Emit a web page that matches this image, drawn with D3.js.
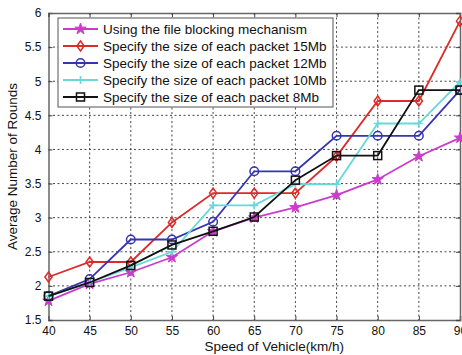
<!DOCTYPE html>
<html lang="en">
<head>
<meta charset="UTF-8">
<title>Average Number of Rounds</title>
<style>
  body { margin: 0; background: #fff; }
  text { font-family: "Liberation Sans", Arial, sans-serif; }
</style>
</head>
<body>
<div id="chart"></div>
<script src="https://d3js.org/d3.v7.min.js"></script>
<script>
    // Data
    var speeds = [40, 45, 50, 55, 60, 65, 70, 75, 80, 85, 90];
    var blocking = [1.78, 2.03, 2.2, 2.42, 2.8, 3.0, 3.15, 3.33, 3.56, 3.9, 4.17];
    var packet15 = [2.13, 2.35, 2.35, 2.93, 3.36, 3.36, 3.36, 3.9, 4.71, 4.71, 5.88];
    var packet12 = [1.85, 2.1, 2.68, 2.68, 2.94, 3.68, 3.68, 4.2, 4.2, 4.2, 4.87];
    var packet10 = [1.85, 2.05, 2.27, 2.5, 3.18, 3.18, 3.49, 3.49, 4.38, 4.38, 4.99];
    var packet8 = [1.85, 2.05, 2.3, 2.6, 2.8, 3.01, 3.55, 3.91, 3.91, 4.87, 4.87];
    var xTicks = [40, 45, 50, 55, 60, 65, 70, 75, 80, 85, 90];
    var yTicks = [1.5, 2, 2.5, 3, 3.5, 4, 4.5, 5, 5.5, 6];

    var series = [
        {name: "Using the file blocking mechanism", values: blocking, color: "#cc3ccc", marker: "star"},
        {name: "Specify the size of each packet 15Mb", values: packet15, color: "#dd2a2a", marker: "diamond"},
        {name: "Specify the size of each packet 12Mb", values: packet12, color: "#3535b0", marker: "circle"},
        {name: "Specify the size of each packet 10Mb", values: packet10, color: "#6ad8d8", marker: "plus"},
        {name: "Specify the size of each packet 8Mb", values: packet8, color: "#111111", marker: "square"}
    ];

    var W = 462, H = 355;
    var margin = {top: 13, right: 2, bottom: 35, left: 48.5};
    var w = W - margin.left - margin.right, h = H - margin.top - margin.bottom;

    var svg = d3.select("#chart").append("svg")
        .attr("width", W).attr("height", H);
    var g = svg.append("g")
        .attr("transform", "translate(" + margin.left + "," + margin.top + ")");

    var x = d3.scaleLinear().domain([40, 90]).range([0, w]);
    var y = d3.scaleLinear().domain([1.5, 6]).range([h, 0]);

    // dotted grid
    g.selectAll(".gx").data(xTicks.slice(1, -1)).enter().append("line")
        .attr("x1", d => x(d)).attr("x2", d => x(d))
        .attr("y1", 0).attr("y2", h)
        .attr("stroke", "#333").attr("stroke-dasharray", "2,2.5").attr("stroke-width", 0.9);
    g.selectAll(".gy").data(yTicks.slice(1, -1)).enter().append("line")
        .attr("x1", 0).attr("x2", w)
        .attr("y1", d => y(d)).attr("y2", d => y(d))
        .attr("stroke", "#333").attr("stroke-dasharray", "2,2.5").attr("stroke-width", 0.9);

    // axes (ticks inward, box style)
    var fmt = d3.format("");
    var axBottom = g.append("g").attr("transform", "translate(0," + h + ")")
        .call(d3.axisBottom(x).tickValues(xTicks).tickSize(-4).tickPadding(6).tickFormat(fmt));
    var axLeft = g.append("g")
        .call(d3.axisLeft(y).tickValues(yTicks).tickSize(-4).tickPadding(7).tickFormat(fmt));
    var axTop = g.append("g")
        .call(d3.axisTop(x).tickValues(xTicks).tickSize(-4).tickFormat(""));
    var axRight = g.append("g").attr("transform", "translate(" + w + ",0)")
        .call(d3.axisRight(y).tickValues(yTicks).tickSize(-4).tickFormat(""));
    [axBottom, axLeft, axTop, axRight].forEach(function (a) {
        a.select(".domain").attr("stroke", "#666").attr("stroke-width", 1.5);
        a.selectAll(".tick line").attr("stroke", "#444");
        a.selectAll("text").attr("font-size", 12).attr("fill", "#111")
            .attr("font-family", "Liberation Sans, Arial, sans-serif");
    });

    // marker drawing
    function drawMarker(sel, type, color) {
        if (type === "circle") {
            sel.append("circle").attr("r", 4.3).attr("fill", "none")
                .attr("stroke", color).attr("stroke-width", 1.5);
        } else if (type === "diamond") {
            sel.append("path").attr("d", "M0,-5L3.6,0L0,5L-3.6,0Z").attr("fill", "none")
                .attr("stroke", color).attr("stroke-width", 1.5);
        } else if (type === "square") {
            sel.append("rect").attr("x", -4).attr("y", -4).attr("width", 8).attr("height", 8)
                .attr("fill", "none").attr("stroke", color).attr("stroke-width", 1.5);
        } else if (type === "plus") {
            sel.append("path").attr("d", "M0,-4L0,4M-4,0L4,0")
                .attr("stroke", color).attr("stroke-width", 1.6);
        } else if (type === "star") {
            sel.append("path").attr("d", d3.symbol().type(d3.symbolStar).size(40)())
                .attr("fill", color).attr("stroke", color).attr("stroke-width", 1);
        }
    }

    var line = d3.line().x((d, i) => x(speeds[i])).y(d => y(d));

    series.forEach(function (s) {
        g.append("path").datum(s.values)
            .attr("d", line).attr("fill", "none")
            .attr("stroke", s.color).attr("stroke-width", 1.8);
        s.values.forEach(function (v, i) {
            var m = g.append("g").attr("transform", "translate(" + x(speeds[i]) + "," + y(v) + ")");
            drawMarker(m, s.marker, s.color);
        });
    });

    // legend
    var lg = svg.append("g").attr("transform", "translate(58,18)");
    lg.append("rect").attr("width", 275).attr("height", 89)
        .attr("fill", "#fff").attr("stroke", "#555").attr("stroke-width", 1);
    series.forEach(function (s, i) {
        var yy = 11 + i * 17;
        var row = lg.append("g").attr("transform", "translate(0," + yy + ")");
        row.append("line").attr("x1", 5).attr("x2", 40).attr("y1", 0).attr("y2", 0)
            .attr("stroke", s.color).attr("stroke-width", 1.8);
        var m = row.append("g").attr("transform", "translate(22.5,0)");
        drawMarker(m, s.marker, s.color);
        row.append("text").attr("x", 45).attr("y", 5)
            .attr("font-size", 13.5).attr("fill", "#111").text(s.name);
    });

    // axis titles
    svg.append("text").attr("x", margin.left + w / 2 + 20).attr("y", 351)
        .attr("text-anchor", "middle").attr("font-size", 13.5).attr("fill", "#111")
        .text("Speed of Vehicle(km/h)");
    svg.append("text")
        .attr("transform", "translate(17," + (margin.top + h / 2) + ") rotate(-90)")
        .attr("text-anchor", "middle").attr("font-size", 13.5).attr("fill", "#111")
        .text("Average Number of Rounds");
</script>
</body>
</html>
